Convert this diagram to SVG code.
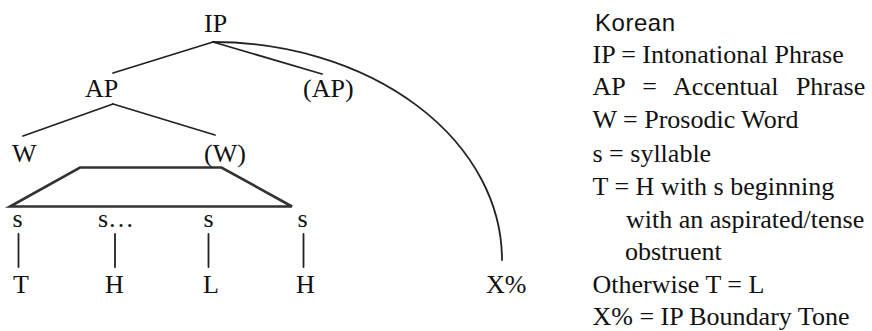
<svg xmlns="http://www.w3.org/2000/svg" width="872" height="331" viewBox="0 0 872 331">
<style>
.t{font-size:26px;fill:#111}
.k{font-family:"Liberation Sans Narrow","Liberation Sans",Arial,sans-serif;font-size:24px;fill:#111}
.c{fill:none;stroke:#222;stroke-width:1.8;stroke-linecap:round;stroke-linejoin:round}
.tz{fill:none;stroke:#333;stroke-width:2.6;stroke-linejoin:miter}
</style>
<rect width="872" height="331" fill="#fff"/>
<g id="connectors">
<path class="c" d="M213,42 L113,73"/>
<path class="c" d="M213,42 L322,74"/>
<path class="c" d="M213,42 A289,218 0 0 1 502,260"/>
<path class="c" d="M113,104 L23,136"/>
<path class="c" d="M113,104 L215,135"/>
<path class="tz" d="M80,167.5 L221.5,167.5 L292,206.5 L10,206.5 Z"/>
<path class="c" d="M18.5,234 V267 M115,234 V267 M208.5,234 V267 M303.5,234 V267"/>
</g>
<g font-family="Liberation Serif, Tinos, Times New Roman, serif">
<g id="node-IP"><text class="t" x="204" y="32">IP</text></g>
<g id="node-AP"><text class="t" x="85" y="97">AP</text></g>
<g id="node-AP2"><text class="t" x="303" y="97">(AP)</text></g>
<g id="node-W"><text class="t" x="12" y="162">W</text></g>
<g id="node-W2"><text class="t" x="204" y="162">(W)</text></g>
<g id="node-s1"><text class="t" x="12.5" y="227">s</text></g>
<g id="node-s2"><text class="t" x="98" y="227">s…</text></g>
<g id="node-s3"><text class="t" x="203.5" y="227">s</text></g>
<g id="node-s4"><text class="t" x="297.5" y="227">s</text></g>
<g id="node-T"><text class="t" x="13" y="293">T</text></g>
<g id="node-H1"><text class="t" x="105" y="293">H</text></g>
<g id="node-L"><text class="t" x="203" y="293">L</text></g>
<g id="node-H2"><text class="t" x="296" y="293">H</text></g>
<g id="node-X"><text class="t" x="486" y="293">X%</text></g>
<g id="legend">
<text class="t" x="592.5" y="63">IP = Intonational Phrase</text>
<text class="t" x="592.5" y="95" word-spacing="11">AP = Accentual Phrase</text>
<text class="t" x="592.5" y="128">W = Prosodic Word</text>
<text class="t" x="592.5" y="161.5">s = syllable</text>
<text class="t" x="592.5" y="194.5">T = H with s beginning</text>
<text class="t" x="626" y="227.5">with an aspirated/tense</text>
<text class="t" x="625" y="259.5">obstruent</text>
<text class="t" x="592.5" y="293">Otherwise T = L</text>
<text class="t" x="592.5" y="325">X% = IP Boundary Tone</text>
</g>
</g>
<g id="legend-title"><text class="k" x="595" y="31" textLength="80" lengthAdjust="spacing">Korean</text></g>
</svg>
